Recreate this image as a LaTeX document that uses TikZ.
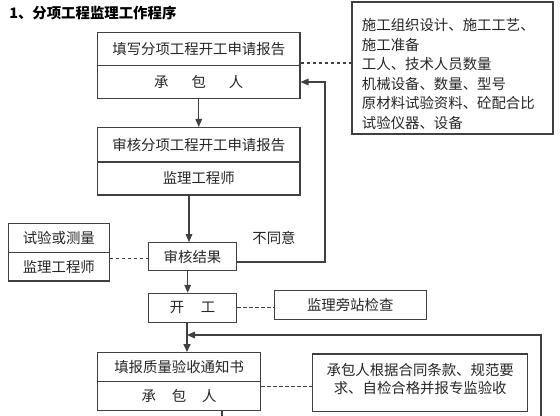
\documentclass[tikz,border=0pt]{standalone}
\usepackage{fontspec}
\setmainfont{Noto Sans CJK SC}
\usetikzlibrary{arrows.meta}
\begin{document}
\begin{tikzpicture}[x=0.75pt,y=-0.75pt,
  every node/.style={font=\fontsize{10.8pt}{14.6pt}\selectfont, text=black!85, inner sep=0pt},
  cell/.style={draw=black!75, line width=0.8pt, rectangle},
  conn/.style={draw=black!75, line width=0.85pt},
  arr/.style={conn, -{Triangle[length=6pt,width=5pt]}},
  dashline/.style={draw=black!75, line width=0.8pt, dash pattern=on 2.5pt off 2pt},
]
\useasboundingbox[fill=white] (0,0) rectangle (560,416);

% title
\node[anchor=west, font=\fontsize{10.8pt}{14.6pt}\selectfont\bfseries, text=black] (T) at (9,12.7) {1、分项工程监理工作程序};

% boxes
\node[cell, minimum width=151.9pt, minimum height=24.75pt] (B1a) at (198.75,49) {填写分项工程开工申请报告};
\node[cell, minimum width=151.9pt, minimum height=24.75pt] (B1b) at (198.75,82) {承\hspace{1.6em}包\hspace{1.6em}人};
\node[cell, minimum width=151.9pt, minimum height=25.9pt] (B2a) at (198.75,144.75) {审核分项工程开工申请报告};
\node[cell, minimum width=151.9pt, minimum height=24.75pt] (B2b) at (198.75,178.5) {监理工程师};

\node[cell, minimum width=150.75pt, minimum height=99pt] (R1) at (452.5,68) {};
\node[anchor=north west, align=left] (R1t) at (361.7,18.5) {施工组织设计、施工工艺、\\施工准备\\工人、技术人员数量\\机械设备、数量、型号\\原材料试验资料、砼配合比\\试验仪器、设备};

\node[cell, minimum width=75.75pt, minimum height=21.75pt] (La) at (58.8,237.8) {试验或测量};
\node[cell, minimum width=75.75pt, minimum height=21.5pt] (Lb) at (58.8,266.7) {监理工程师};

\node[cell, minimum width=66.3pt, minimum height=21.2pt] (S) at (192.5,256.8) {审核结果};
\node (N) at (274,238.3) {不同意};
\node[cell, minimum width=66.3pt, minimum height=21.75pt] (K) at (192.5,307.8) {开\hspace{1.15em}工};
\node[cell, minimum width=113.8pt, minimum height=21.45pt] (J) at (350.2,305) {监理旁站检查};

\node[cell, minimum width=122.4pt, minimum height=21.75pt] (Fa) at (179.1,367.2) {填报质量验收通知书};
\node[cell, minimum width=122.4pt, minimum height=21.2pt] (Fb) at (179.1,395.9) {承\hspace{1.1em}包\hspace{1.1em}人};

\node[cell, minimum width=161.6pt, minimum height=43.3pt] (R2) at (420.2,382.9) {};
\node[align=center, font=\fontsize{10.8pt}{13.5pt}\selectfont] (R2t) at (420.2,379) {承包人根据合同条款、规范要\\求、自检合格并报专监验收};

% helper coordinates
\coordinate (fb) at (325,262);
\coordinate (a2) at (189,0);
\coordinate (a3) at (187.7,0);
\coordinate (a4) at (187,0);
\coordinate (lp) at (541,335);
\coordinate (le) at (541,416);
\coordinate (fe) at (222,416);
\coordinate (d1) at (0,63);
\coordinate (d2) at (0,258.7);
\coordinate (d4) at (0,386.7);

% connectors
\draw[arr] (B1b.south) -- (B2a.north);
\draw[arr] (B2b.south -| a2) -- (S.north -| a2);
\draw[arr] (fb -| S.east) -- (fb) |- (B1b.east);
\draw[arr] (S.south -| a3) -- (K.north -| a3);
\draw[arr, line width=1.5pt] (K.south -| a4) -- (Fa.north -| a4);
\draw[arr] (le) |- (lp -| a4);
\draw[conn] (Fb.south -| fe) -- (fe);

\draw[dashline] (B1a.east |- d1) -- (R1.west |- d1);
\draw[dashline] (Lb.east |- d2) -- (S.west |- d2);
\draw[dashline] (K.east) -- (K.east -| J.west);
\draw[dashline] (Fb.east |- d4) -- (R2.west |- d4);
\end{tikzpicture}
\end{document}
